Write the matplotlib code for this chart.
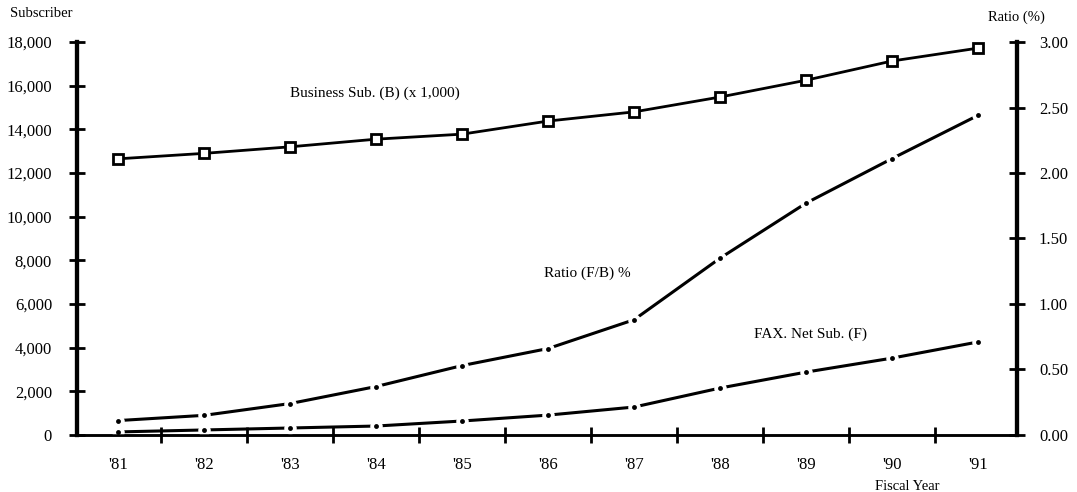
import matplotlib.pyplot as plt
from matplotlib.ticker import FuncFormatter

plt.rcParams['font.family'] = ['Liberation Serif', 'DejaVu Serif']

years = ["'81", "'82", "'83", "'84", "'85", "'86", "'87", "'88", "'89", "'90", "'91"]
business_sub = [12650, 12900, 13200, 13550, 13780, 14380, 14800, 15480, 16250, 17130, 17720]
fax_net_sub = [140, 230, 320, 410, 640, 910, 1280, 2150, 2880, 3520, 4260]
ratio_fb = [0.11, 0.15, 0.24, 0.37, 0.53, 0.66, 0.88, 1.35, 1.77, 2.11, 2.44]

x = list(range(len(years)))

fig = plt.figure(figsize=(10.77, 4.92), dpi=100)
ax = fig.add_axes([0.0715, 0.1159, 0.8725, 0.7987])
ax2 = ax.twinx()

# business subscribers: solid line with open squares
ax.plot(x, business_sub, color='black', lw=2, marker='s', ms=6.5,
        mfc='white', mec='black', mew=2, zorder=3)


def gapped(a, xs, ys):
    # solid line with a small gap and a dot at each data point
    a.plot(xs, ys, color='black', lw=2.2, zorder=2)
    a.plot(xs, ys, ls='none', marker='o', ms=9, mfc='white', mec='none', zorder=3)
    a.plot(xs, ys, ls='none', marker='o', ms=3.5, mfc='black', mec='none', zorder=4)


gapped(ax, x, fax_net_sub)
gapped(ax2, x, ratio_fb)

ax.set_xlim(-0.48, 10.45)
ax.set_ylim(0, 18000)
ax2.set_ylim(0, 3.0)

ax.set_yticks(range(0, 18001, 2000))
ax.yaxis.set_major_formatter(FuncFormatter(lambda v, p: f'{int(v):,}'))
ax2.set_yticks([0, 0.5, 1.0, 1.5, 2.0, 2.5, 3.0])
ax2.yaxis.set_major_formatter(FuncFormatter(lambda v, p: f'{v:.2f}'))

ax.set_xticks([i + 0.5 for i in x[:-1]])
ax.set_xticklabels([])
ax.set_xticks(x, minor=True)
ax.set_xticklabels(years, minor=True)
ax.tick_params(axis='x', which='minor', length=0, pad=16, labelsize=12)
ax.tick_params(axis='x', which='major', direction='inout', length=12, width=2)

ax.tick_params(axis='y', direction='inout', length=12, width=2, labelsize=12, pad=12)
ax2.tick_params(axis='y', direction='inout', length=12, width=2, labelsize=12, pad=10)

for a in (ax, ax2):
    a.spines['top'].set_visible(False)
    a.spines['left'].set_linewidth(3)
    a.spines['right'].set_linewidth(3)
    a.spines['bottom'].set_linewidth(1.8)

fig.text(0.009, 0.965, 'Subscriber', fontsize=10.5)
fig.text(0.917, 0.958, 'Ratio (%)', fontsize=10.5)
fig.text(0.812, 0.004, 'Fiscal Year', fontsize=10.5)

ax.text(2.0, 15500, 'Business Sub. (B) (x 1,000)', fontsize=11)
ax.text(4.95, 7250, 'Ratio (F/B) %', fontsize=11)
ax.text(7.4, 4450, 'FAX. Net Sub. (F)', fontsize=11)

plt.savefig('out.png', dpi=100)
